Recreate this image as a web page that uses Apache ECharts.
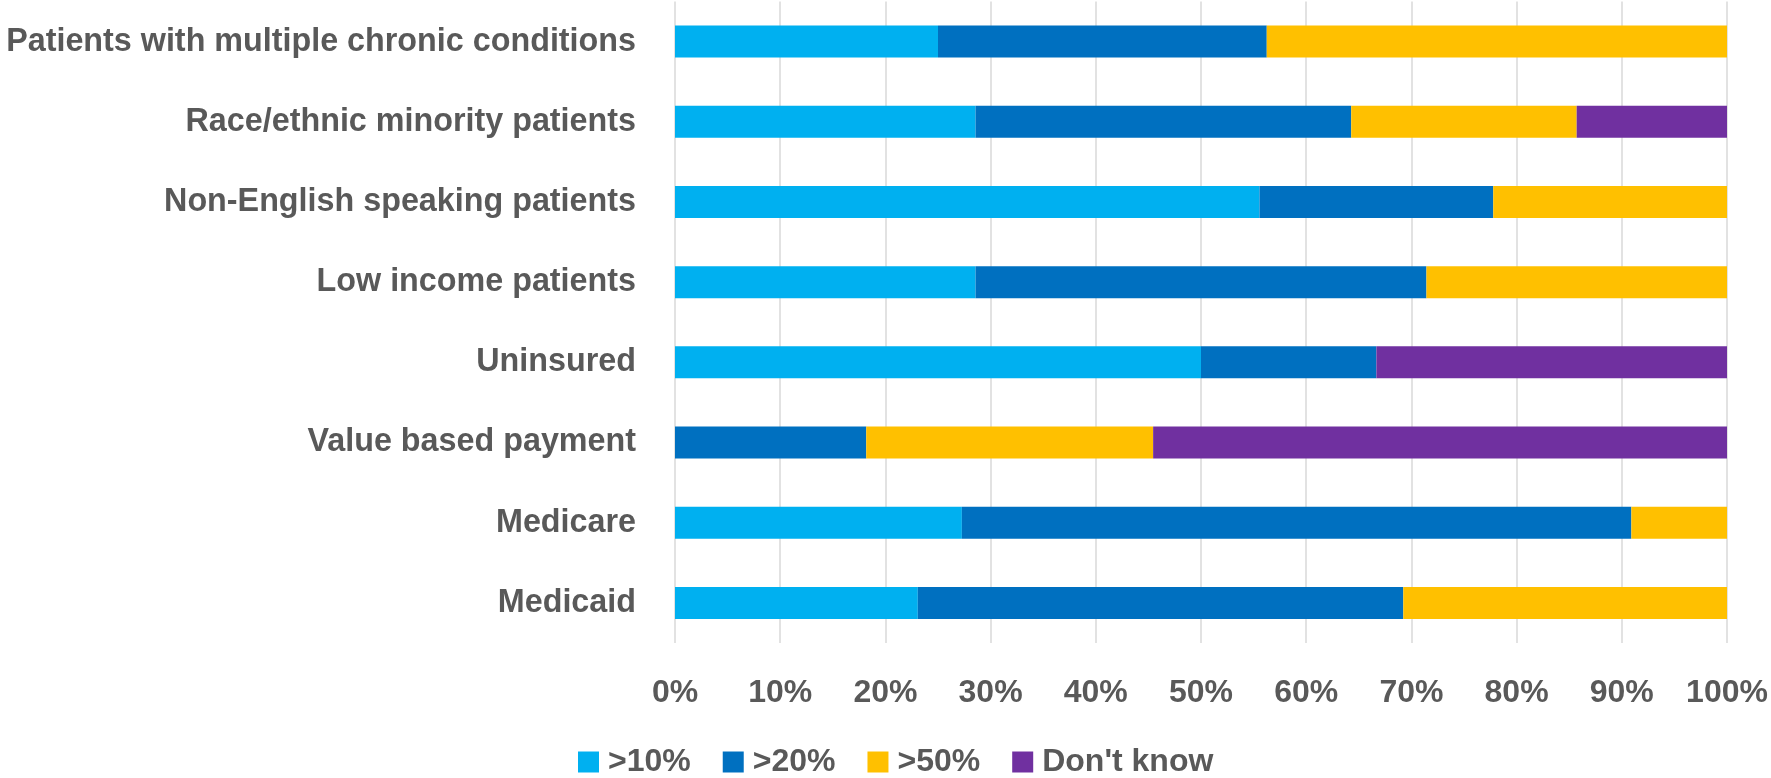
<!DOCTYPE html>
<html>
<head>
<meta charset="utf-8">
<script src="https://cdn.jsdelivr.net/npm/echarts@6/dist/echarts.min.js"></script>
<style>
    html, body { margin: 0; padding: 0; background: #fff; }
    #chart { width: 1771px; height: 778px; }
</style>
</head>
<body>
<div id="chart"></div>
<script>
// categories, bottom to top (as drawn on the y axis)
let categories = ['Medicaid', 'Medicare', 'Value based payment', 'Uninsured', 'Low income patients', 'Non-English speaking patients', 'Race/ethnic minority patients', 'Patients with multiple chronic conditions']
let seriesNames = ['>10%', '>20%', '>50%', "Don't know"]
// shares in percent, same order as categories
let over10 = [23.08, 27.27, 0, 50, 28.57, 55.56, 28.57, 25]
let over20 = [46.15, 63.64, 18.18, 16.67, 42.86, 22.22, 35.71, 31.25]
let over50 = [30.77, 9.09, 27.27, 0, 28.57, 22.22, 21.43, 43.75]
let dontKnow = [0, 0, 54.55, 33.33, 0, 0, 14.29, 0]
let xTicks = [0, 10, 20, 30, 40, 50, 60, 70, 80, 90, 100]

//颜色
let colors = ['#00b0f0', '#0070c0', '#ffc000', '#7030a0']
let textColor = '#595959'
let font = 'Liberation Sans'

let myChart = echarts.init(document.getElementById('chart'))
let allData = [over10, over20, over50, dontKnow]

let option = {
    animation: false,
    grid: {
        top: 1.5,
        bottom: 135,
        left: 675,
        right: 44
    },
    legend: {
        data: seriesNames,
        left: 573,
        top: 741,
        icon: 'rect',
        itemWidth: 21,
        itemHeight: 21,
        itemGap: 32,
        textStyle: {
            color: textColor,
            fontFamily: font,
            fontWeight: 'bold',
            fontSize: 32,
            padding: [0, 0, 0, 4]
        }
    },
    xAxis: {
        type: 'value',
        min: xTicks[0],
        max: xTicks[xTicks.length - 1],
        interval: 10,
        axisLine: { show: false },
        axisTick: { show: false },
        splitLine: {
            show: true,
            lineStyle: { color: '#d9d9d9', width: 1.5 }
        },
        axisLabel: {
            margin: 34,
            color: textColor,
            fontFamily: font,
            fontWeight: 'bold',
            fontSize: 32,
            formatter: '{value}%'
        }
    },
    yAxis: {
        type: 'category',
        data: categories,
        axisLine: { show: false },
        axisTick: { show: false },
        axisLabel: {
            margin: 39,
            color: textColor,
            fontFamily: font,
            fontWeight: 'bold',
            fontSize: 32.3
        }
    },
    series: seriesNames.map(function (name, i) {
        return {
            name: name,
            type: 'bar',
            stack: 'total',
            barWidth: 32,
            data: allData[i],
            itemStyle: { color: colors[i] }
        }
    })
}
myChart.setOption(option)
window.addEventListener('resize', function () {
    myChart.resize()
})
</script>
</body>
</html>
